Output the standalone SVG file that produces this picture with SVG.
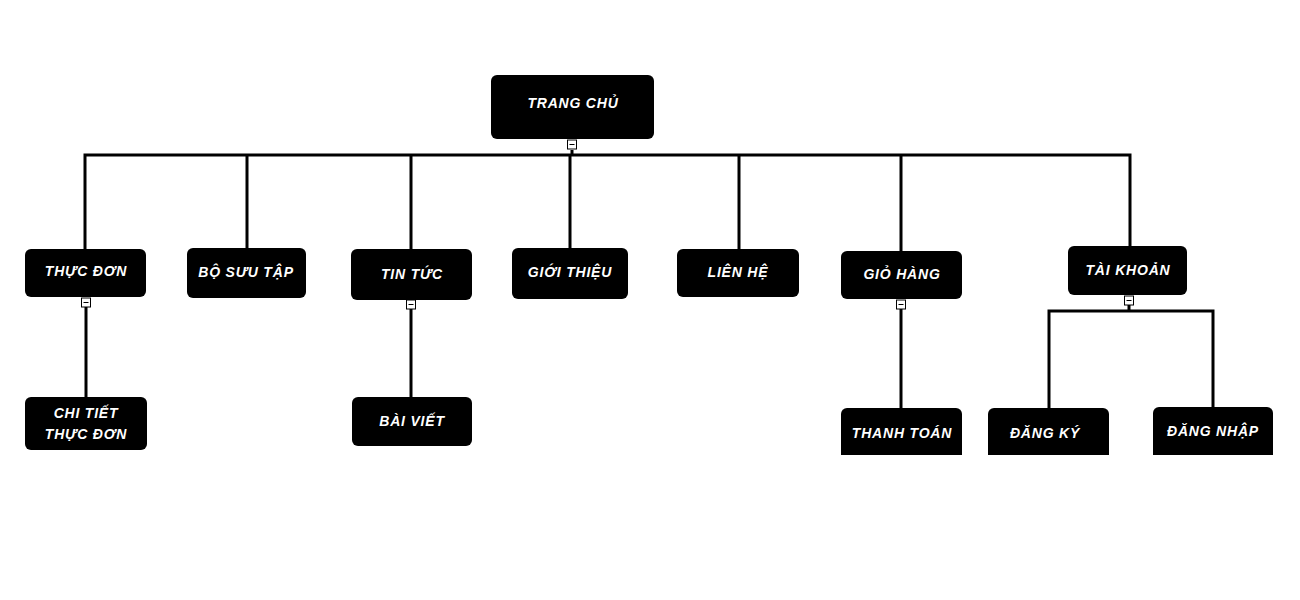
<svg xmlns="http://www.w3.org/2000/svg" width="1300" height="600" viewBox="0 0 1300 600">
<style>
.box{fill:#000}
.lbl{fill:#fff;font-family:"Liberation Sans",Arial,sans-serif;font-weight:bold;font-style:italic;font-size:14px;text-anchor:middle;letter-spacing:0.8px}
.ln{stroke:#000;stroke-width:3;fill:none}
.tog{fill:#fff;stroke:#000;stroke-width:1}
.tm{stroke:#000;stroke-width:1}
</style>
<defs>
<clipPath id="cut"><rect x="0" y="0" width="1300" height="455"/></clipPath>
<g id="toggle"><rect class="tog" x="-4.5" y="0" width="9" height="9"/><line class="tm" x1="-2.5" y1="4.5" x2="2.5" y2="4.5"/></g>
</defs>
<rect width="1300" height="600" fill="#fff"/>
<g id="connectors">
<path class="ln" d="M572 150V155"/>
<path class="ln" d="M85 249V155H1130V247"/>
<path class="ln" d="M247 155V248M411 155V249M570 155V248M739 155V249M901 155V251"/>
<path class="ln" d="M86 307V397"/>
<path class="ln" d="M411 309V397"/>
<path class="ln" d="M901 309V408"/>
<path class="ln" d="M1129 305V311M1049 408V311H1213V407"/>
</g>
<g id="trang-chu"><rect class="box" x="491" y="75" width="163" height="64" rx="6"/><text class="lbl" x="573" y="108">TRANG CHỦ</text><use href="#toggle" x="572" y="140"/></g>
<g id="thuc-don"><rect class="box" x="25" y="249" width="121" height="48" rx="6"/><text class="lbl" x="86" y="276">THỰC ĐƠN</text><use href="#toggle" x="86" y="298"/></g>
<g id="bo-suu-tap"><rect class="box" x="187" y="248" width="119" height="50" rx="6"/><text class="lbl" x="246" y="277">BỘ SƯU TẬP</text></g>
<g id="tin-tuc"><rect class="box" x="351" y="249" width="121" height="51" rx="6"/><text class="lbl" x="412" y="279">TIN TỨC</text><use href="#toggle" x="411" y="300"/></g>
<g id="gioi-thieu"><rect class="box" x="512" y="248" width="116" height="51" rx="6"/><text class="lbl" x="570" y="277">GIỚI THIỆU</text></g>
<g id="lien-he"><rect class="box" x="677" y="249" width="122" height="48" rx="6"/><text class="lbl" x="738" y="277">LIÊN HỆ</text></g>
<g id="gio-hang"><rect class="box" x="841" y="251" width="121" height="48" rx="6"/><text class="lbl" x="902" y="279">GIỎ HÀNG</text><use href="#toggle" x="901" y="300"/></g>
<g id="tai-khoan"><rect class="box" x="1068" y="246" width="119" height="49" rx="6"/><text class="lbl" x="1128" y="275">TÀI KHOẢN</text><use href="#toggle" x="1129" y="296"/></g>
<g id="chi-tiet-thuc-don"><rect class="box" x="25" y="397" width="122" height="53" rx="6"/><text class="lbl" x="86" y="418">CHI TIẾT</text><text class="lbl" x="86" y="439">THỰC ĐƠN</text></g>
<g id="bai-viet"><rect class="box" x="352" y="397" width="120" height="49" rx="6"/><text class="lbl" x="412" y="426">BÀI VIẾT</text></g>
<g id="thanh-toan" clip-path="url(#cut)"><rect class="box" x="841" y="408" width="121" height="56" rx="6"/><text class="lbl" x="902" y="438">THANH TOÁN</text></g>
<g id="dang-ky" clip-path="url(#cut)"><rect class="box" x="988" y="408" width="121" height="56" rx="6"/><text class="lbl" x="1045" y="438">ĐĂNG KÝ</text></g>
<g id="dang-nhap" clip-path="url(#cut)"><rect class="box" x="1153" y="407" width="120" height="56" rx="6"/><text class="lbl" x="1213" y="436">ĐĂNG NHẬP</text></g>
</svg>
